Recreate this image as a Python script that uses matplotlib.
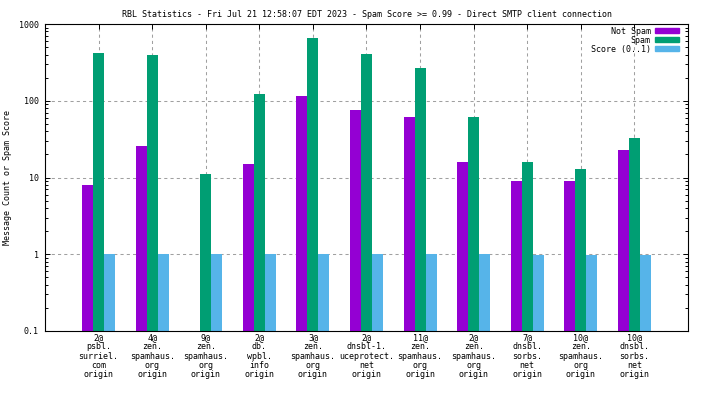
import numpy as np
import matplotlib
matplotlib.use("Agg")
import matplotlib.pyplot as plt
from matplotlib.patches import Patch

TITULO = "RBL Statistics - Fri Jul 21 12:58:07 EDT 2023 - Spam Score >= 0.99 - Direct SMTP client connection"

categorias = [
    "2@\npsbl.\nsurriel.\ncom\norigin",
    "4@\nzen.\nspamhaus.\norg\norigin",
    "9@\nzen.\nspamhaus.\norg\norigin",
    "2@\ndb.\nwpbl.\ninfo\norigin",
    "3@\nzen.\nspamhaus.\norg\norigin",
    "2@\ndnsbl-1.\nuceprotect.\nnet\norigin",
    "11@\nzen.\nspamhaus.\norg\norigin",
    "2@\nzen.\nspamhaus.\norg\norigin",
    "7@\ndnsbl.\nsorbs.\nnet\norigin",
    "10@\nzen.\nspamhaus.\norg\norigin",
    "10@\ndnsbl.\nsorbs.\nnet\norigin",
]
not_spam = [8, 26, 0, 15, 117, 75, 62, 16, 9, 9, 23]
spam = [415, 391, 11, 124, 652, 403, 264, 62, 16, 13, 33]
score = [1, 1, 1, 1, 1, 1, 1, 1, 0.98, 0.98, 0.98]

COR_NOT = "#9400d3"
COR_SPAM = "#009e73"
COR_SCORE = "#56b4e9"
COR_GRADE = "#a0a0a0"

FS = 6
plt.rcParams["font.family"] = ["DejaVu Sans Mono"]
plt.rcParams["font.size"] = FS

fig = plt.figure(figsize=(7.04, 3.96), dpi=100)
ax = fig.add_axes([45 / 704, 65 / 396, 643 / 704, 307 / 396])

x = np.arange(len(categorias))
larg = 0.205
ax.bar(x - larg, not_spam, width=larg, color=COR_NOT, label="Not Spam", zorder=2)
ax.bar(x, spam, width=larg, color=COR_SPAM, label="Spam", zorder=2)
ax.bar(x + larg, score, width=larg, color=COR_SCORE, label="Score (0..1)", zorder=2)

ax.set_yscale("log")
ax.set_ylim(0.1, 1000)
ax.set_xlim(-1, 11)
ax.set_yticks([0.1, 1, 10, 100, 1000])
ax.set_yticklabels(["0.1", "1", "10", "100", "1000"])
ax.set_xticks(x)
ax.set_xticklabels(categorias, linespacing=1.03, va="top")

ax.tick_params(axis="both", which="major", direction="in", length=3.6, width=0.7,
               top=True, right=True, labelsize=FS)
ax.tick_params(axis="y", which="minor", direction="in", length=2.0, width=0.7, right=True)
ax.tick_params(axis="y", which="major", pad=4.5)
ax.tick_params(axis="x", which="major", pad=1.5)
ax.tick_params(axis="x", which="minor", bottom=False, top=False)

ax.grid(True, which="major", color=COR_GRADE, linestyle=(0, (3, 3)), linewidth=0.75, zorder=1)
ax.set_axisbelow(True)
for s in ax.spines.values():
    s.set_linewidth(0.8)

ax.set_ylabel("Message Count or Spam Score", fontsize=FS)
ax.yaxis.set_label_coords(-0.052, 0.5)
ax.set_title(TITULO, fontsize=FS, pad=5)

alcas = [Patch(color=COR_NOT), Patch(color=COR_SPAM), Patch(color=COR_SCORE)]
ax.legend(alcas, ["Not Spam", "Spam", "Score (0..1)"], loc="upper right",
          bbox_to_anchor=(0.986, 0.991), frameon=False, fontsize=FS,
          markerfirst=False, handlelength=2.9, handleheight=0.57, labelspacing=0.0,
          handletextpad=0.5, borderaxespad=0.0, borderpad=0.0)

fig.savefig("out.png", dpi=100)
